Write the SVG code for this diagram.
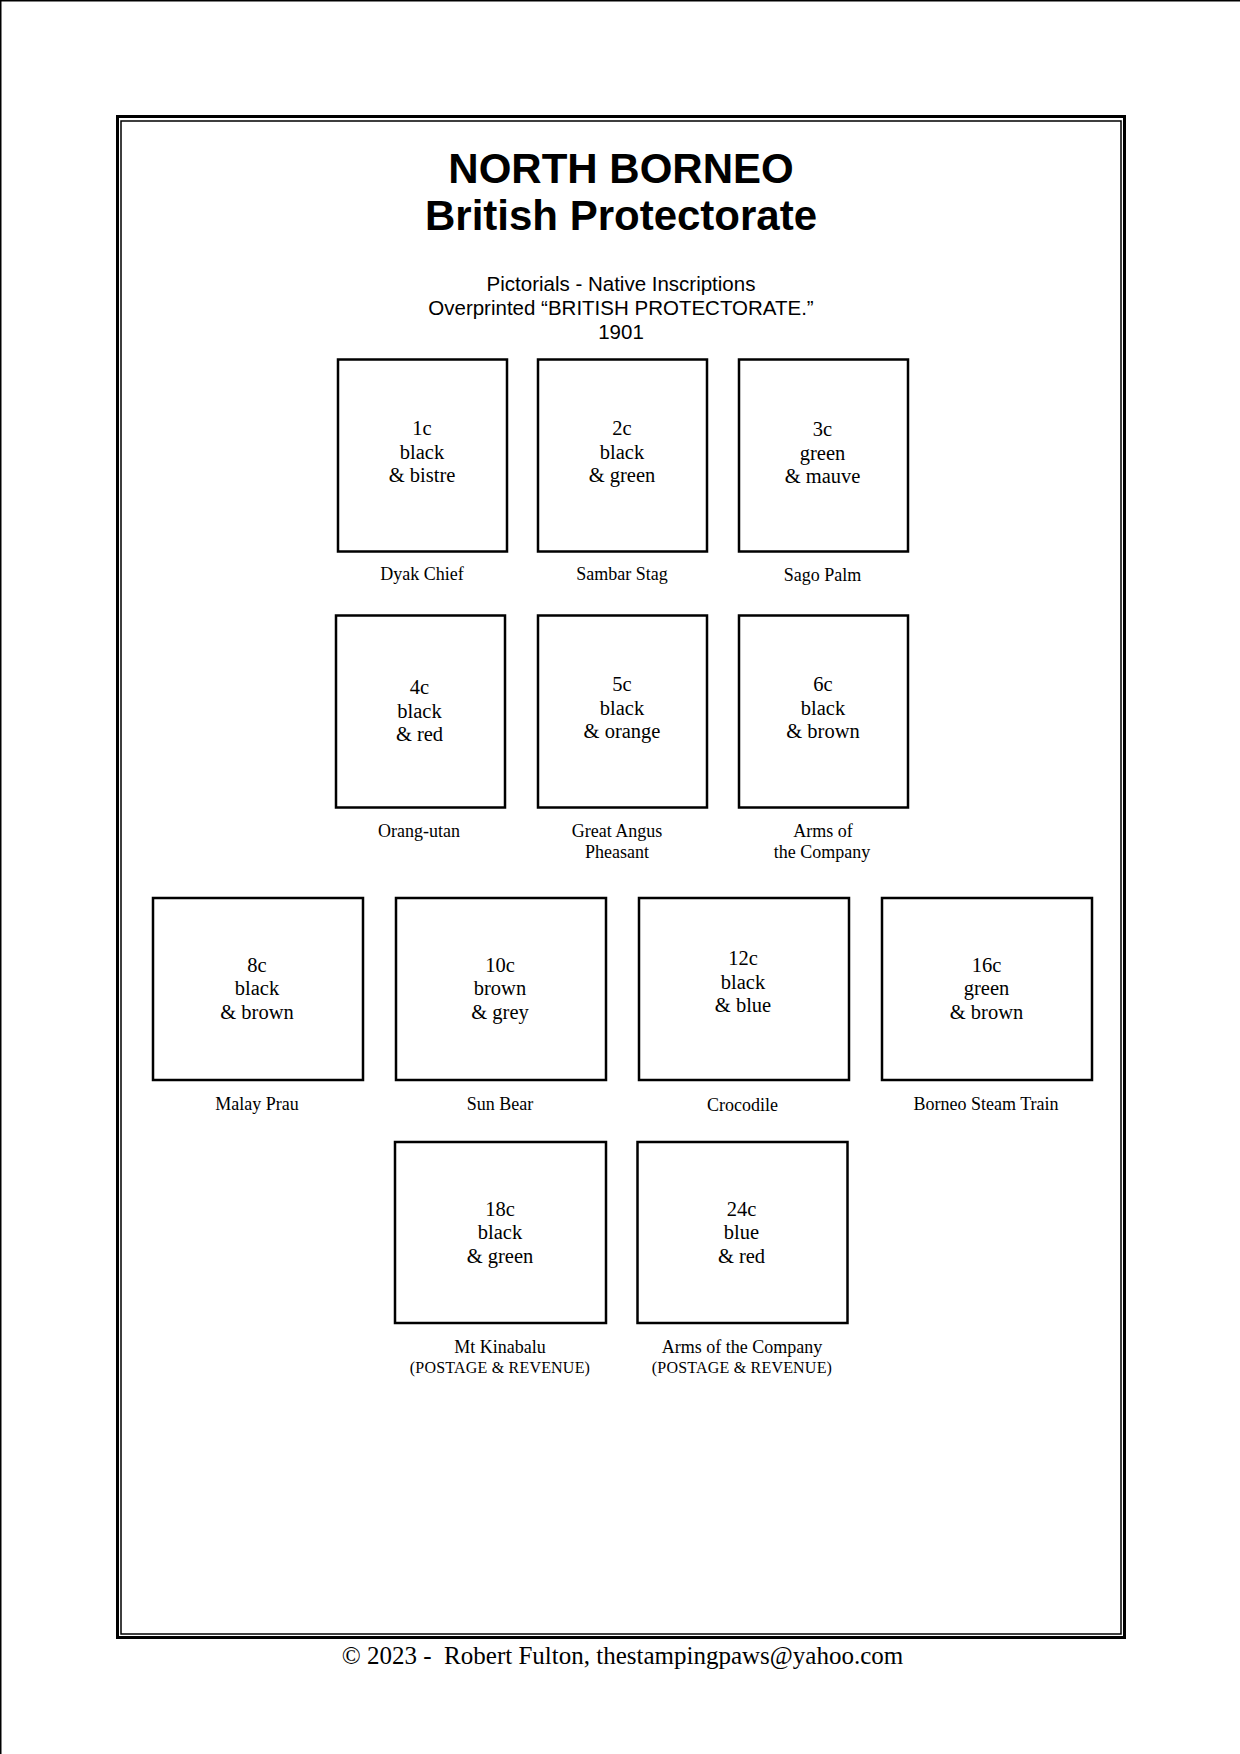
<svg xmlns="http://www.w3.org/2000/svg" width="1240" height="1754" viewBox="0 0 1240 1754">
<style>
.bg{fill:#fff}
.box{fill:#fff;stroke:#000;stroke-width:2.5}
.t{font-family:"Liberation Serif","Times New Roman",serif;fill:#000;text-anchor:middle}
.v{font-size:20.5px}
.lbl{font-size:18px}
.sm{font-size:16px;letter-spacing:0.2px}
.h{font-family:"Liberation Sans",Arial,sans-serif;font-weight:bold;font-size:42px;text-anchor:middle;fill:#000}
.s{font-family:"Liberation Sans",Arial,sans-serif;font-size:20.5px;text-anchor:middle;fill:#000}
</style>
<rect class="bg" x="0" y="0" width="1240" height="1754"/>
<g id="page-edge">
<line x1="0" y1="0.75" x2="1240" y2="0.75" stroke="#000" stroke-width="1.5"/>
<line x1="0.75" y1="0" x2="0.75" y2="1754" stroke="#000" stroke-width="1.5"/>
</g>
<g id="frame" fill="none" stroke="#000">
<rect x="117.5" y="116.5" width="1007" height="1521" stroke-width="3"/>
<rect x="121" y="121" width="1000" height="1513" stroke-width="1.5"/>
</g>
<g id="title">
<text class="h" x="621" y="183">NORTH BORNEO</text>
<text class="h" x="621" y="230">British Protectorate</text>
<text class="s" x="621" y="291">Pictorials - Native Inscriptions</text>
<text class="s" x="621" y="315">Overprinted “BRITISH PROTECTORATE.”</text>
<text class="s" x="621" y="339">1901</text>
</g>
<g id="connectors"/>
<g id="stamp-1c">
<rect class="box" x="338" y="359.5" width="169" height="192"/>
<text class="t v" x="422" y="435">1c</text><text class="t v" x="422" y="458.5">black</text><text class="t v" x="422" y="482">&amp; bistre</text>
<text class="t lbl" x="422" y="580">Dyak Chief</text>
</g>
<g id="stamp-2c">
<rect class="box" x="538" y="359.5" width="169" height="192"/>
<text class="t v" x="622" y="435">2c</text><text class="t v" x="622" y="458.5">black</text><text class="t v" x="622" y="482">&amp; green</text>
<text class="t lbl" x="622" y="580">Sambar Stag</text>
</g>
<g id="stamp-3c">
<rect class="box" x="739" y="359.5" width="169" height="192"/>
<text class="t v" x="822.5" y="436">3c</text><text class="t v" x="822.5" y="459.5">green</text><text class="t v" x="822.5" y="483">&amp; mauve</text>
<text class="t lbl" x="822.5" y="581">Sago Palm</text>
</g>
<g id="stamp-4c">
<rect class="box" x="336" y="615.5" width="169" height="192"/>
<text class="t v" x="419.5" y="694">4c</text><text class="t v" x="419.5" y="717.5">black</text><text class="t v" x="419.5" y="741">&amp; red</text>
<text class="t lbl" x="419" y="836.5">Orang-utan</text>
</g>
<g id="stamp-5c">
<rect class="box" x="538" y="615.5" width="169" height="192"/>
<text class="t v" x="622" y="691">5c</text><text class="t v" x="622" y="714.5">black</text><text class="t v" x="622" y="738">&amp; orange</text>
<text class="t lbl" x="617" y="836.5">Great Angus</text><text class="t lbl" x="617" y="857.5">Pheasant</text>
</g>
<g id="stamp-6c">
<rect class="box" x="739" y="615.5" width="169" height="192"/>
<text class="t v" x="823" y="691">6c</text><text class="t v" x="823" y="714.5">black</text><text class="t v" x="823" y="738">&amp; brown</text>
<text class="t lbl" x="823" y="836.5">Arms of</text><text class="t lbl" x="822" y="857.5">the Company</text>
</g>
<g id="stamp-8c">
<rect class="box" x="153" y="898" width="210" height="182"/>
<text class="t v" x="257" y="971.5">8c</text><text class="t v" x="257" y="995">black</text><text class="t v" x="257" y="1018.5">&amp; brown</text>
<text class="t lbl" x="257" y="1110">Malay Prau</text>
</g>
<g id="stamp-10c">
<rect class="box" x="396" y="898" width="210" height="182"/>
<text class="t v" x="500" y="971.5">10c</text><text class="t v" x="500" y="995">brown</text><text class="t v" x="500" y="1018.5">&amp; grey</text>
<text class="t lbl" x="500" y="1110">Sun Bear</text>
</g>
<g id="stamp-12c">
<rect class="box" x="639" y="898" width="210" height="182"/>
<text class="t v" x="743" y="965">12c</text><text class="t v" x="743" y="988.5">black</text><text class="t v" x="743" y="1012">&amp; blue</text>
<text class="t lbl" x="742.5" y="1111">Crocodile</text>
</g>
<g id="stamp-16c">
<rect class="box" x="882" y="898" width="210" height="182"/>
<text class="t v" x="986.5" y="971.5">16c</text><text class="t v" x="986.5" y="995">green</text><text class="t v" x="986.5" y="1018.5">&amp; brown</text>
<text class="t lbl" x="986" y="1110">Borneo Steam Train</text>
</g>
<g id="stamp-18c">
<rect class="box" x="395" y="1142" width="211" height="181"/>
<text class="t v" x="500" y="1215.5">18c</text><text class="t v" x="500" y="1239">black</text><text class="t v" x="500" y="1262.5">&amp; green</text>
<text class="t lbl" x="500" y="1352.5">Mt Kinabalu</text><text class="t sm" x="500" y="1372.5">(POSTAGE &amp; REVENUE)</text>
</g>
<g id="stamp-24c">
<rect class="box" x="637.5" y="1142" width="210" height="181"/>
<text class="t v" x="741.5" y="1215.5">24c</text><text class="t v" x="741.5" y="1239">blue</text><text class="t v" x="741.5" y="1262.5">&amp; red</text>
<text class="t lbl" x="742" y="1352.5">Arms of the Company</text><text class="t sm" x="742" y="1372.5">(POSTAGE &amp; REVENUE)</text>
</g>
<g id="footer">
<text class="t" x="622.5" y="1664" font-size="25" xml:space="preserve">© 2023 -  Robert Fulton, thestampingpaws@yahoo.com</text>
</g>
</svg>
